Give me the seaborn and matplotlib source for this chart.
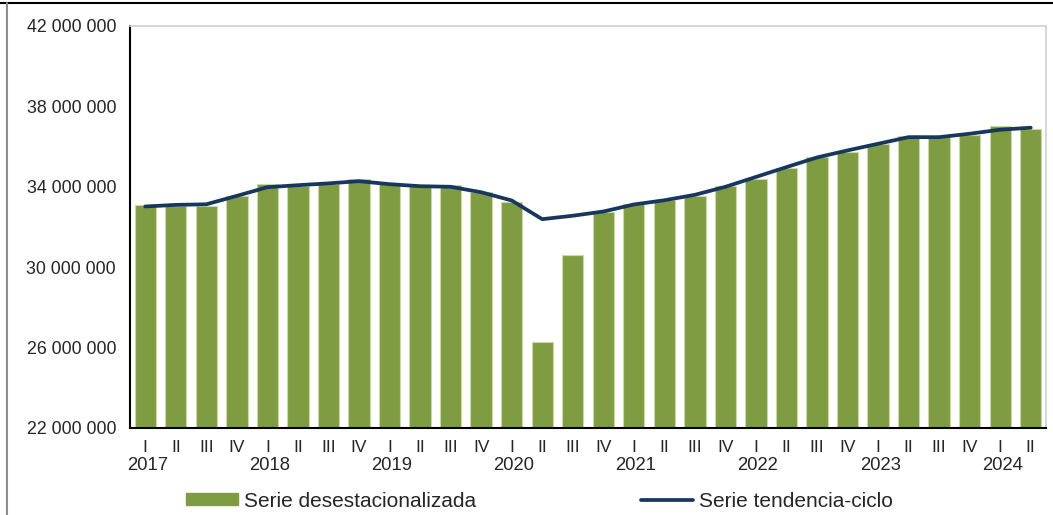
import pandas as pd
import matplotlib.pyplot as plt
import seaborn as sns
from matplotlib.patches import Patch
from matplotlib.lines import Line2D
from matplotlib.ticker import FuncFormatter
import matplotlib.transforms as mtransforms

# Datos trimestrales 2017-I a 2024-II
anios = ["2017", "2018", "2019", "2020", "2021", "2022", "2023", "2024"]
trimestres = ["I", "II", "III", "IV"] * 7 + ["I", "II"]
desestacionalizada = [
    33.10, 33.02, 33.05, 33.52,
    34.13, 34.03, 34.13, 34.37,
    34.17, 34.03, 34.07, 33.72,
    33.23, 26.30, 30.62, 32.74,
    33.15, 33.32, 33.52, 34.05,
    34.37, 34.92, 35.48, 35.73,
    36.14, 36.52, 36.47, 36.59,
    37.04, 36.86,
]
tendencia = [
    33.02, 33.10, 33.13, 33.55,
    33.98, 34.08, 34.17, 34.28,
    34.13, 34.03, 34.00, 33.73,
    33.32, 32.39, 32.56, 32.77,
    33.12, 33.33, 33.60, 34.00,
    34.49, 34.98, 35.46, 35.81,
    36.14, 36.47, 36.47, 36.64,
    36.84, 36.94,
]

df = pd.DataFrame({
    "pos": range(len(trimestres)),
    "trimestre": trimestres,
    "desest": [v * 1e6 for v in desestacionalizada],
    "tend": [v * 1e6 for v in tendencia],
})

verde = "#809C42"
azul = "#17375E"

sns.set_style("white")
plt.rcParams["font.family"] = ["Liberation Sans", "DejaVu Sans"]

fig = plt.figure(figsize=(10.53, 5.15), dpi=100)
ax = fig.add_axes([130 / 1053, 1 - 428 / 515, (1046 - 130) / 1053, (428 - 26) / 515])

sns.barplot(data=df, x="pos", y="desest", color=verde, width=0.7,
            edgecolor="#C9D8A8", linewidth=0.8, saturation=1, ax=ax)
sns.lineplot(x=df["pos"], y=df["tend"], color=azul, linewidth=2.7, ax=ax)

ax.set_ylim(22e6, 42e6)
ax.set_xlim(-0.5, len(df) - 0.5)
ax.set_yticks([22e6, 26e6, 30e6, 34e6, 38e6, 42e6])
ax.yaxis.set_major_formatter(FuncFormatter(lambda v, p: f"{int(v):,}".replace(",", " ")))
ax.set_xlabel("")
ax.set_ylabel("")

# etiquetas de trimestre
ax.set_xticks(df["pos"])
ax.set_xticklabels(trimestres)
ax.tick_params(axis="x", which="major", length=0, pad=9, labelsize=12.5)
ax.set_xticks([i * 4 - 0.5 for i in range(8)], minor=True)
ax.tick_params(axis="x", which="minor", length=6, width=1.2, color="black", direction="out")
ax.tick_params(axis="y", length=5, width=1.2, color="black", direction="out", labelsize=12.8, pad=5)

# años (alineados a la izquierda de cada grupo)
trans = mtransforms.blended_transform_factory(ax.transData, ax.transAxes)
for i, a in enumerate(anios):
    ax.text(i * 4 - 0.6, -0.072, a, transform=trans, ha="left", va="top", fontsize=13.3)

for s in ["left", "bottom"]:
    ax.spines[s].set_color("black")
    ax.spines[s].set_linewidth(1.5)
for s in ["top", "right"]:
    ax.spines[s].set_color("#D0D0D0")
    ax.spines[s].set_linewidth(1.2)

handles = [
    Patch(facecolor=verde, edgecolor=verde, label="Serie desestacionalizada"),
    Line2D([], [], color=azul, linewidth=2.7, label="Serie tendencia-ciclo"),
]
fig.legend(handles=handles, loc="center", bbox_to_anchor=(0.512, 0.027), ncol=2,
           frameon=False, fontsize=15, handlelength=2.5, handleheight=0.52,
           handletextpad=0.3, columnspacing=7.9, borderpad=0, borderaxespad=0)

# marco de la figura
fig.add_artist(Line2D([0, 1], [1 - 3 / 515, 1 - 3 / 515], color="black", linewidth=1.5,
                      transform=fig.transFigure))
fig.add_artist(Line2D([7 / 1053, 7 / 1053], [0, 1 - 3 / 515], color="#8C8C8C", linewidth=1.5,
                      transform=fig.transFigure))

fig.savefig("out.png", dpi=100)
